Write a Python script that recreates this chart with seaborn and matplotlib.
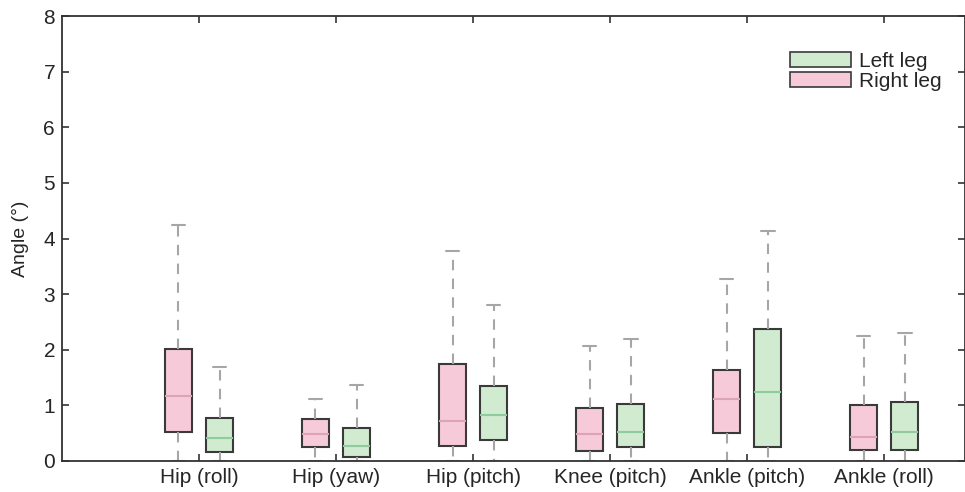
import numpy as np
import pandas as pd
import matplotlib
matplotlib.use("Agg")
import matplotlib.pyplot as plt
import seaborn as sns
from matplotlib.patches import Patch

joints = ["Hip (roll)", "Hip (yaw)", "Hip (pitch)", "Knee (pitch)", "Ankle (pitch)", "Ankle (roll)"]
legs = ["Right leg", "Left leg"]

# five-number summaries: min, q1, median, q3, max
right_min = [0.0, 0.0, 0.0, 0.0, 0.0, 0.0]
right_q1 = [0.53, 0.25, 0.27, 0.18, 0.51, 0.20]
right_med = [1.17, 0.48, 0.72, 0.48, 1.11, 0.43]
right_q3 = [2.02, 0.76, 1.74, 0.96, 1.64, 1.01]
right_max = [4.24, 1.11, 3.78, 2.07, 3.28, 2.24]

left_min = [0.0, 0.0, 0.0, 0.0, 0.0, 0.0]
left_q1 = [0.17, 0.08, 0.37, 0.26, 0.26, 0.20]
left_med = [0.42, 0.27, 0.83, 0.53, 1.24, 0.53]
left_q3 = [0.78, 0.60, 1.34, 1.03, 2.38, 1.06]
left_max = [1.69, 1.37, 2.81, 2.19, 4.14, 2.31]

rows = []
for i, j in enumerate(joints):
    for v in (right_min[i], right_q1[i], right_med[i], right_q3[i], right_max[i]):
        rows.append((j, "Right leg", v))
    for v in (left_min[i], left_q1[i], left_med[i], left_q3[i], left_max[i]):
        rows.append((j, "Left leg", v))
df = pd.DataFrame(rows, columns=["joint", "leg", "angle"])

pink = "#F7CADA"
green = "#D0EBD0"
pink_med = "#DDA3B8"
green_med = "#8FCB9C"
edge = "#3a3a3a"
wgrey = "#A6A6A6"

sns.set_style("white")
plt.rcParams["font.family"] = ["Liberation Sans", "DejaVu Sans"]

fig = plt.figure(figsize=(9.65, 4.92), dpi=100)
ax = fig.add_axes([62 / 965, 31 / 492, 903 / 965, 445 / 492])

sns.boxplot(
    data=df, x="joint", y="angle", hue="leg", order=joints, hue_order=legs,
    palette={"Right leg": pink, "Left leg": green}, saturation=1,
    width=0.6, gap=1 / 3, whis=(0, 100), showfliers=False,
    linecolor=edge, linewidth=1.5, legend=False, ax=ax,
    whiskerprops=dict(color=wgrey, linestyle=(0, (5, 4)), linewidth=1.5),
    capprops=dict(color=wgrey, linewidth=1.5),
    medianprops=dict(linewidth=1.5),
)

med_colors = [pink_med, green_med]
for k, cont in enumerate(ax.containers):
    for m in cont.medians:
        m.set_color(med_colors[k])
    for c in cont.caps:
        xd = c.get_xdata()
        cx = (xd[0] + xd[1]) / 2
        c.set_xdata([cx - 0.05, cx + 0.05])

ax.set_xlim(-1, 5.59)
ax.set_ylim(0, 8)
ax.set_yticks(range(0, 9))
ax.set_xlabel("")
ax.set_ylabel("Angle (°)", fontsize=14, labelpad=10)
ax.tick_params(axis="both", direction="in", length=5, width=1.2, color="#333333",
               labelsize=15, top=True, right=True, left=True, bottom=True)
ax.tick_params(axis="x", pad=5)
ax.tick_params(axis="y", pad=5)
for s in ax.spines.values():
    s.set_visible(True)
    s.set_color("#333333")
    s.set_linewidth(1.3)

handles = [Patch(facecolor=green, edgecolor=edge, linewidth=1.2, label="Left leg"),
           Patch(facecolor=pink, edgecolor=edge, linewidth=1.2, label="Right leg")]
ax.legend(handles=handles, loc="upper right", bbox_to_anchor=(0.988, 0.948), frameon=False,
          fontsize=15, handlelength=2.9, handleheight=0.72, handletextpad=0.4,
          labelspacing=0.05, borderaxespad=0.2)

fig.savefig("out.png", dpi=100)
